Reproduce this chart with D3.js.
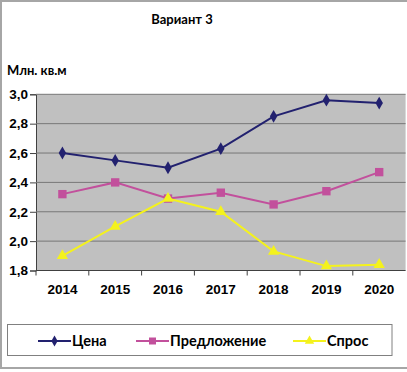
<!DOCTYPE html>
<html>
<head>
<meta charset="utf-8">
<script src="https://cdn.jsdelivr.net/npm/d3@7"></script>
<style>
  html, body { margin: 0; padding: 0; background: #fff; }
  svg { display: block; font-family: Lato, "Open Sans", sans-serif; }
</style>
</head>
<body>
<svg id="chart" width="407" height="372"></svg>
<script>
const YEARS = ['2014', '2015', '2016', '2017', '2018', '2019', '2020'];
const PRICE = [2.6, 2.55, 2.5, 2.63, 2.85, 2.96, 2.94];
const SUPPLY = [2.32, 2.4, 2.29, 2.33, 2.25, 2.34, 2.47];
const DEMAND = [1.9, 2.1, 2.29, 2.2, 1.93, 1.83, 1.84];
const Y_TICKS = [1.8, 2.0, 2.2, 2.4, 2.6, 2.8, 3.0];

const SERIES = [
  { name: 'Цена', values: PRICE, color: '#22216f', marker: d3.symbolDiamond, size: 48 },
  { name: 'Предложение', values: SUPPLY, color: '#c2509c', marker: d3.symbolSquare, size: 70 },
  { name: 'Спрос', values: DEMAND, color: '#f4f21c', marker: d3.symbolTriangle, size: 55 }
];

const svg = d3.select('#chart');

// outer frame (right side is cropped in the original)
svg.append('rect')
  .attr('x', 1).attr('y', 1).attr('width', 420).attr('height', 367)
  .attr('fill', 'none').attr('stroke', '#a6a6a6').attr('stroke-width', 2);

const plot = { left: 36, right: 405.6, top: 94.3, bottom: 270.5 };

const x = d3.scaleBand().domain(YEARS).range([plot.left, plot.right]);
const y = d3.scaleLinear().domain([1.8, 3.0]).range([plot.bottom, plot.top]);

svg.append('rect')
  .attr('x', plot.left).attr('y', plot.top)
  .attr('width', plot.right - plot.left).attr('height', plot.bottom - plot.top)
  .attr('fill', '#c0c0c0');

// y axis
svg.append('g')
  .attr('transform', `translate(${plot.left},0)`)
  .call(d3.axisLeft(y).tickValues(Y_TICKS).tickSize(6).tickFormat((d) => d3.format('.1f')(d).replace('.', ',')))
  .call((a) => a.select('.domain').attr('stroke', '#404040'))
  .call((a) => a.selectAll('line').attr('stroke', '#404040'))
  .call((a) => a.selectAll('text')
    .attr('fill', '#000').attr('font-size', 13.5).attr('font-weight', 700).attr('x', -8));

// grid lines
svg.append('g')
  .selectAll('line')
  .data(Y_TICKS.slice(1))
  .join('line')
  .attr('x1', plot.left).attr('x2', plot.right)
  .attr('y1', (d) => y(d)).attr('y2', (d) => y(d))
  .attr('stroke', '#777').attr('stroke-width', 1);

// x axis
svg.append('g')
  .attr('transform', `translate(0,${plot.bottom})`)
  .call(d3.axisBottom(x).tickSize(0).tickPadding(14))
  .call((a) => a.select('.domain').remove())
  .call((a) => a.selectAll('text')
    .attr('fill', '#000').attr('font-size', 13.5).attr('font-weight', 700));

svg.append('line')
  .attr('x1', plot.left).attr('x2', plot.right)
  .attr('y1', plot.bottom).attr('y2', plot.bottom)
  .attr('stroke', '#404040');

svg.append('g')
  .selectAll('line')
  .data(YEARS)
  .join('line')
  .attr('x1', (d) => x(d)).attr('x2', (d) => x(d))
  .attr('y1', plot.bottom).attr('y2', plot.bottom + 5)
  .attr('stroke', '#404040');

// series
const line = d3.line()
  .x((d, i) => x(YEARS[i]) + x.bandwidth() / 2)
  .y((d) => y(d));

SERIES.forEach((s) => {
  svg.append('path')
    .attr('d', line(s.values))
    .attr('fill', 'none')
    .attr('stroke', s.color)
    .attr('stroke-width', 2);

  svg.append('g')
    .selectAll('path')
    .data(s.values)
    .join('path')
    .attr('transform', (d, i) => `translate(${x(YEARS[i]) + x.bandwidth() / 2},${y(d)})`)
    .attr('d', d3.symbol().type(s.marker).size(s.size))
    .attr('fill', s.color);
});

// titles
svg.append('text')
  .attr('x', 182).attr('y', 24)
  .attr('text-anchor', 'middle')
  .attr('font-size', 13).attr('font-weight', 700)
  .text('Вариант 3');

svg.append('text')
  .attr('x', 7).attr('y', 75)
  .attr('font-size', 13).attr('font-weight', 700)
  .text('Млн. кв.м');

// legend
svg.append('rect')
  .attr('x', 7.5).attr('y', 324.5).attr('width', 384.5).attr('height', 31)
  .attr('fill', '#fff').attr('stroke', '#808080');

const LEGEND_X = [38, 136, 293];
SERIES.forEach((s, i) => {
  const g = svg.append('g').attr('transform', `translate(${LEGEND_X[i]},341)`);
  g.append('line')
    .attr('x1', 0).attr('x2', 33)
    .attr('stroke', s.color).attr('stroke-width', 2);
  g.append('path')
    .attr('transform', 'translate(16.5,0)')
    .attr('d', d3.symbol().type(s.marker).size(s.size * 0.7))
    .attr('fill', s.color);
  g.append('text')
    .attr('x', 34).attr('y', 5)
    .attr('font-size', 14.5).attr('font-weight', 700)
    .text(s.name);
});
</script>
</body>
</html>
